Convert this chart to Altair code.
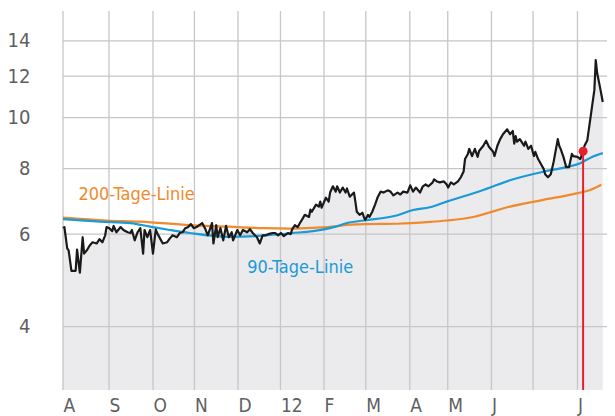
import altair as alt
import pandas as pd

# Days counted from 1 Aug 2011
price_days = [0,1,3,4,6,9,10,12,14,15,17,19,21,24,26,28,30,31,33,35,36,38,41,43,46,48,49,51,53,55,57,58,60,62,64,66,67,69,71,74,76,78,81,83,85,87,89,91,93,95,99,101,103,106,107,109,110,112,114,116,118,120,121,124,126,128,131,133,135,138,140,142,144,146,149,151,153,155,157,160,162,163,165,167,169,170,172,175,176,177,180,182,183,184,187,189,190,192,194,195,197,199,201,202,204,207,208,209,211,213,214,215,217,218,220,222,224,226,228,231,233,235,238,240,242,245,247,249,251,254,256,258,260,263,264,266,268,271,273,274,276,278,281,283,285,286,288,289,291,293,295,296,299,301,303,306,307,309,311,313,316,318,320,321,322,323,325,328,329,331,333,335,336,338,340,342,343,345,347,349,352,353,354,356,358,360,362,363,366,368,370,371,373,375,378,379,380,382,384]
price_vals = [6.16,6.19,5.64,5.59,5.11,5.11,5.61,5.07,5.92,5.51,5.59,5.71,5.79,5.76,5.87,5.79,5.97,6.19,6.16,6.08,6.22,6.05,6.19,6.11,6.05,6.03,6.11,5.84,6.05,6.16,5.51,6.11,5.92,6.11,5.51,6.13,6.03,5.89,5.76,5.79,5.89,5.97,5.92,6.03,6.05,6.16,6.19,6.27,6.16,6.19,6.30,6.16,5.97,6.30,5.76,6.24,5.92,6.16,5.84,6.22,5.92,6.05,5.84,6.11,5.97,6.11,6.05,6.13,6.03,5.92,5.76,5.97,5.97,6.00,6.03,6.03,5.97,6.03,5.95,6.03,6.00,6.13,6.24,6.19,6.33,6.39,6.53,6.47,6.68,6.62,6.83,6.77,6.92,6.74,7.04,6.92,7.20,7.40,7.23,7.40,7.20,7.36,7.20,7.33,7.07,7.20,6.92,6.62,6.53,6.59,6.47,6.39,6.53,6.47,6.62,6.83,7.07,7.23,7.20,7.27,7.23,7.11,7.20,7.14,7.23,7.20,7.43,7.23,7.36,7.20,7.40,7.46,7.40,7.53,7.63,7.56,7.53,7.56,7.46,7.36,7.53,7.46,7.56,7.70,7.90,8.34,8.53,8.72,8.45,8.72,8.42,8.64,8.84,9.04,8.80,8.61,8.45,8.84,9.10,9.30,9.50,9.30,9.43,8.92,9.22,9.00,9.10,8.84,9.00,8.72,8.84,8.45,8.61,8.34,8.16,7.98,7.80,7.70,7.80,8.23,9.10,8.84,8.72,8.42,8.05,8.05,8.53,8.45,8.42,8.34,8.63,8.84,9.06,9.89,11.28,12.87,12.16,11.43,10.71]

ma90_days = [0,26,48,62,76,90,118,142,163,178,194,202,214,238,249,261,273,292,297,318,342,359,368,376,384]
ma90_vals = [6.41,6.34,6.30,6.20,6.11,6.03,5.93,5.96,6.03,6.08,6.20,6.30,6.37,6.52,6.67,6.75,6.92,7.18,7.25,7.60,7.89,8.06,8.19,8.41,8.56]

ma200_days = [0,31,55,90,118,142,163,178,194,202,214,238,261,273,292,316,340,363,375,383]
ma200_vals = [6.45,6.37,6.34,6.24,6.20,6.16,6.15,6.17,6.21,6.25,6.27,6.28,6.33,6.37,6.47,6.75,6.96,7.15,7.28,7.45]

# month gridline positions (day index)
month_ticks = [0,32.7,64.0,93.5,124.5,154.7,185.7,215.4,246.7,273.7,304.8,334.4,366]
month_labels = ["A","S","O","N","D","12","F","M","A","M","J","","J"]
y_ticks = [4,6,8,10,12,14]

marker_day = [370]
marker_val = [8.63]

label_texts = ["200-Tage-Linie", "90-Tage-Linie"]
label_days = [11, 131]
label_vals = [7.12, 5.17]
label_colors = ["#f08a2c", "#1a9ad6"]

Y_MIN, Y_MAX = 3.03, 15.96
X_MIN, X_MAX = 0, 387
FONT = "Liberation Sans Narrow, DejaVu Sans Condensed, sans-serif"

price = pd.DataFrame({"d": price_days, "v": price_vals})
ma90 = pd.DataFrame({"d": ma90_days, "v": ma90_vals})
ma200 = pd.DataFrame({"d": ma200_days, "v": ma200_vals})
mt = pd.DataFrame({"d": month_ticks})
yt = pd.DataFrame({"v": y_ticks})
mk = pd.DataFrame({"d": marker_day, "v": marker_val})
lb = pd.DataFrame({"t": label_texts, "d": label_days, "v": label_vals, "c": label_colors})

xscale = alt.Scale(domain=[X_MIN, X_MAX], nice=False, zero=False)
yscale = alt.Scale(type="log", domain=[Y_MIN, Y_MAX], nice=False)

tick_arr = "[" + ",".join(str(t) for t in month_ticks) + "]"
lab_arr = "[" + ",".join("'" + l + "'" for l in month_labels) + "]"

xaxis = alt.Axis(values=month_ticks, labelExpr=f"{lab_arr}[indexof({tick_arr}, datum.value)]",
                 grid=False, ticks=False, domain=False, labelAlign="left", labelBaseline="top",
                 labelPadding=6, labelFont=FONT, labelFontSize=19, labelColor="#5f5f5f",
                 title=None, labelOverlap=False, labelFlush=False)
yaxis = alt.Axis(values=y_ticks, format="d", grid=False, ticks=False, domain=False,
                 labelPadding=33, labelFont=FONT, labelFontSize=20, labelColor="#5f5f5f",
                 title=None, labelOverlap=False, labelFlush=False)

X = alt.X("d:Q", scale=xscale, title=None)
Y = alt.Y("v:Q", scale=yscale, title=None)

area = alt.Chart(price).mark_area(color="#ebebee").encode(
    x=alt.X("d:Q", scale=xscale, axis=xaxis),
    y=alt.Y("v:Q", scale=yscale, axis=yaxis),
    y2=alt.datum(Y_MIN),
)

vgrid = alt.Chart(mt).mark_rule(color="#c6c6c6", strokeWidth=1.3).encode(x=X)
hgrid = alt.Chart(yt).mark_rule(color="#c6c6c6", strokeWidth=1.3).encode(y=Y)

l200 = alt.Chart(ma200).mark_line(color="#f08a2c", strokeWidth=2.2, interpolate="monotone").encode(x=X, y=Y)
l90 = alt.Chart(ma90).mark_line(color="#1a9ad6", strokeWidth=2.2, interpolate="monotone").encode(x=X, y=Y)
lp = alt.Chart(price).mark_line(color="#1a1a1a", strokeWidth=2.2, strokeJoin="round").encode(x=X, y=Y)

rule = alt.Chart(mk).mark_rule(color="#e5202e", strokeWidth=2).encode(x=X, y=Y, y2=alt.datum(Y_MIN))
dot = alt.Chart(mk).mark_point(color="#e5202e", filled=True, opacity=1, size=80).encode(x=X, y=Y)

texts = alt.Chart(lb).mark_text(align="left", baseline="middle", font=FONT, fontSize=18).encode(
    x=X, y=Y, text="t:N", color=alt.Color("c:N", scale=None))

chart = alt.layer(area, vgrid, hgrid, l200, l90, lp, rule, dot, texts).properties(
    width=544, height=379,
    autosize=alt.AutoSizeParams(type="none"),
    padding={"left": 55, "top": 3, "right": 0, "bottom": 26},
).configure_view(stroke=None)

chart.save("out.html", embed_options={"renderer": "svg", "actions": False})
